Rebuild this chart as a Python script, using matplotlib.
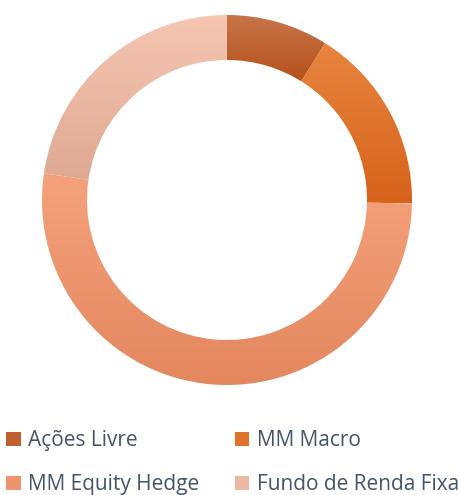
import numpy as np
import matplotlib
matplotlib.use("Agg")
import matplotlib.pyplot as plt
from matplotlib.colors import LinearSegmentedColormap
from matplotlib.patches import Patch

labels = ["Ações Livre", "MM Macro", "MM Equity Hedge", "Fundo de Renda Fixa"]
values = [8.9, 16.4, 52.0, 22.7]
top_colors = ["#C8764A", "#E8853F", "#F5A27C", "#F6C6B3"]
bottom_colors = ["#B5501B", "#D7621B", "#E3875E", "#DFA992"]
mid_colors = ["#BE6030", "#E0732C", "#EE946C", "#EDB8A2"]

W, H = 459, 495
fig = plt.figure(figsize=(W / 100, H / 100), dpi=100)
R = 185
cx, cy = 227, 200
ax = fig.add_axes([(cx - R) / W, (H - cy - R) / H, 2 * R / W, 2 * R / H])
ax.set_xlim(-1, 1)
ax.set_ylim(-1, 1)
ax.set_aspect("equal")
ax.axis("off")

wedges, _ = ax.pie(values, startangle=90, counterclock=False, radius=1,
                   wedgeprops=dict(width=45 / R, linewidth=0, edgecolor="none"),
                   colors=mid_colors)

grad = np.linspace(0, 1, 256).reshape(-1, 1)
for w, c0, c1 in zip(wedges, top_colors, bottom_colors):
    bb = w.get_path().get_extents()
    cmap = LinearSegmentedColormap.from_list("g", [c0, c1])
    im = ax.imshow(grad, cmap=cmap, aspect="auto", origin="upper",
                   extent=[bb.x0, bb.x1, bb.y0, bb.y1], zorder=2)
    im.set_clip_path(w)
    w.set_facecolor("none")
ax.set_xlim(-1, 1)
ax.set_ylim(-1, 1)

# legend is filled row by row in the original, matplotlib fills by column
order = [0, 2, 1, 3]
handles = [Patch(facecolor=mid_colors[i], edgecolor="none") for i in order]
fig.legend(handles, [labels[i] for i in order], ncol=2, loc="upper left",
           bbox_to_anchor=(0.0, 1 - 424 / H), frameon=False,
           prop={"family": "Open Sans", "size": 15},
           labelcolor="#44546A", handlelength=0.7, handleheight=0.7,
           handletextpad=0.35, columnspacing=1.7, labelspacing=1.1,
           borderaxespad=0.0, borderpad=0.3)

fig.savefig("out.png", dpi=100, facecolor="white")
